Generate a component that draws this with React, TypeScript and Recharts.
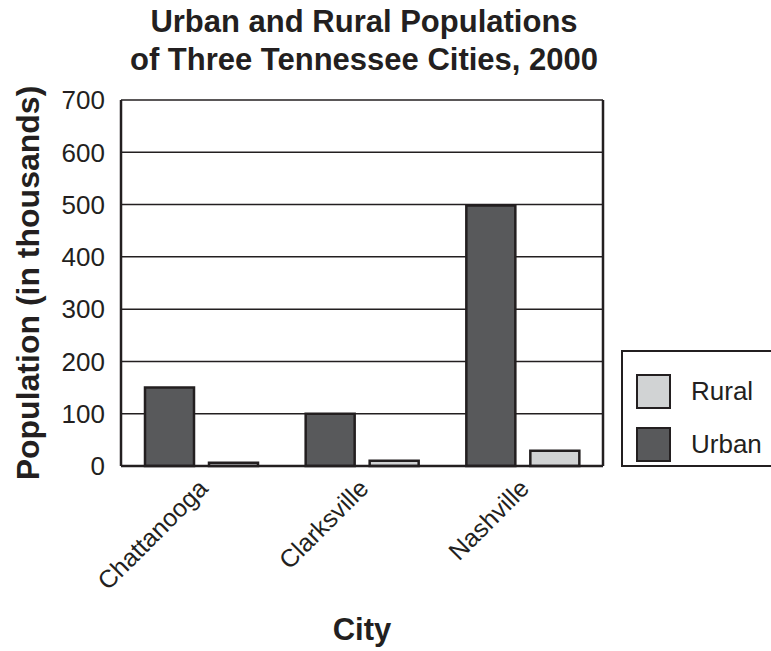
import { Bar, BarChart, CartesianGrid, ReferenceLine, XAxis, YAxis } from "recharts";

const cities = ["Chattanooga", "Clarksville", "Nashville"];
const urban = [150, 100, 498];
const rural = [6, 10, 29];
const yTicks = [0, 100, 200, 300, 400, 500, 600, 700];

const data = cities.map((city, i) => ({ city, urban: urban[i], rural: rural[i] }));

const INK = "#231f20";
const DARK = "#58595b";
const LIGHT = "#d1d3d4";
const FONT = "'Liberation Sans', Arial, Helvetica, sans-serif";

function CityTick(props: any) {
  const { x, y, payload } = props;
  return (
    <text
      transform={`translate(${x + 8}, ${y + 24}) rotate(-45)`}
      textAnchor="end"
      fontSize={25}
      fontFamily={FONT}
      fill={INK}
    >
      {payload.value}
    </text>
  );
}

function LegendBox() {
  const items = [
    { name: "Rural", fill: LIGHT },
    { name: "Urban", fill: DARK }
  ];
  return (
    <div
      style={{
        position: "absolute",
        left: 621,
        top: 350,
        width: 152,
        height: 117,
        border: `2px solid ${INK}`,
        boxSizing: "border-box",
        background: "#fff",
        paddingTop: 13,
        fontFamily: FONT
      }}
    >
      {items.map((it) => (
        <div key={it.name} style={{ display: "flex", alignItems: "center", height: 53 }}>
          <div
            style={{
              width: 31,
              height: 31,
              marginLeft: 13,
              background: it.fill,
              border: `2px solid ${INK}`
            }}
          />
          <span style={{ marginLeft: 20, fontSize: 26, color: INK }}>{it.name}</span>
        </div>
      ))}
    </div>
  );
}

export default function App() {
  return (
    <div style={{ position: "absolute", left: 0, top: 0, width: 771, height: 651, background: "#fff", overflow: "hidden" }}>
      <div
        style={{
          position: "absolute",
          left: 0,
          width: 728,
          top: 3,
          textAlign: "center",
          fontFamily: FONT,
          fontWeight: "bold",
          fontSize: 31,
          lineHeight: "38px",
          color: INK
        }}
      >
        Urban and Rural Populations
        <br />
        of Three Tennessee Cities, 2000
      </div>
      <BarChart
        width={771}
        height={651}
        data={data}
        margin={{ top: 100, right: 168, bottom: 0, left: 0 }}
        barSize={49}
        barGap={15}
      >
        <CartesianGrid vertical={false} stroke={INK} strokeWidth={1.5} />
        <XAxis
          dataKey="city"
          height={185}
          axisLine={{ stroke: INK, strokeWidth: 2.5 }}
          tickLine={false}
          tickSize={0}
          tickMargin={0}
          interval={0}
          tick={<CityTick />}
          label={{
            value: "City",
            position: "insideBottom",
            offset: 11,
            fontSize: 31,
            fontWeight: "bold",
            fontFamily: FONT,
            fill: INK
          }}
        />
        <YAxis
          width={121}
          domain={[0, 700]}
          ticks={yTicks}
          interval={0}
          axisLine={{ stroke: INK, strokeWidth: 2.5 }}
          tickLine={false}
          tickSize={0}
          tickMargin={16}
          tick={{ fontSize: 26, fontFamily: FONT, fill: INK }}
          label={{
            value: "Population (in thousands)",
            angle: -90,
            position: "insideLeft",
            offset: 28,
            style: { textAnchor: "middle" },
            fontSize: 32,
            fontWeight: "bold",
            fontFamily: FONT,
            fill: INK
          }}
        />
        <ReferenceLine x={cities[cities.length - 1]} position="end" stroke={INK} strokeWidth={2.5} />
        <Bar dataKey="urban" name="Urban" fill={DARK} stroke={INK} strokeWidth={2.5} isAnimationActive={false} />
        <Bar dataKey="rural" name="Rural" fill={LIGHT} stroke={INK} strokeWidth={2.5} isAnimationActive={false} />
      </BarChart>
      <LegendBox />
    </div>
  );
}
